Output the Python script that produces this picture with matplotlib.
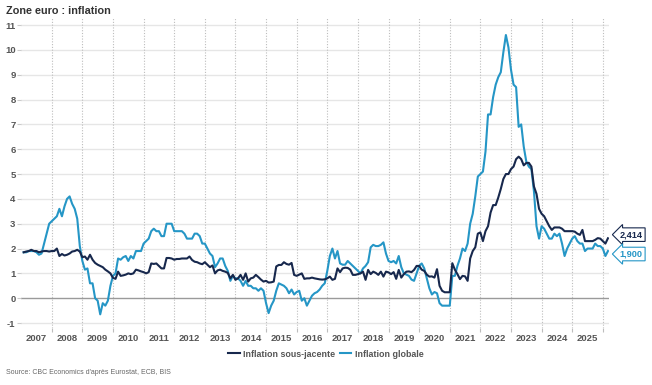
import matplotlib
matplotlib.use('Agg')
import matplotlib.pyplot as plt
import numpy as np

plt.rcParams['font.family'] = ['Liberation Sans', 'DejaVu Sans']

# monthly values, Jan 2007 -> Feb 2026
START_YEAR = 2007

globale = [
    1.85, 1.85, 1.9, 1.9, 1.9, 1.85, 1.75, 1.8, 2.2, 2.6, 3.0, 3.1,      # 2007
    3.2, 3.3, 3.6, 3.3, 3.7, 4.0, 4.1, 3.8, 3.6, 3.2, 2.1, 1.5,          # 2008
    1.15, 1.2, 0.6, 0.6, 0.0, -0.1, -0.65, -0.2, -0.3, -0.1, 0.5, 0.9,   # 2009
    1.0, 1.6, 1.55, 1.65, 1.7, 1.5, 1.7, 1.6, 1.9, 1.9, 1.9, 2.2,        # 2010
    2.3, 2.4, 2.7, 2.8, 2.7, 2.7, 2.5, 2.5, 3.0, 3.0, 3.0, 2.7,          # 2011
    2.7, 2.7, 2.7, 2.6, 2.4, 2.4, 2.4, 2.6, 2.6, 2.5, 2.2, 2.2,          # 2012
    2.0, 1.8, 1.7, 1.25, 1.4, 1.6, 1.6, 1.3, 1.1, 0.7, 0.9, 0.8,         # 2013
    0.8, 0.7, 0.5, 0.7, 0.5, 0.5, 0.4, 0.4, 0.3, 0.4, 0.3, -0.2,         # 2014
    -0.6, -0.3, -0.1, 0.3, 0.6, 0.55, 0.5, 0.4, 0.2, 0.35, 0.15, 0.25,   # 2015
    0.3, -0.1, 0.0, -0.3, -0.1, 0.1, 0.2, 0.25, 0.35, 0.5, 0.6, 1.1,     # 2016
    1.7, 2.0, 1.6, 1.9, 1.4, 1.35, 1.35, 1.5, 1.4, 1.3, 1.2, 1.1,        # 2017
    1.0, 1.2, 1.3, 1.45, 2.05, 2.15, 2.1, 2.1, 2.15, 2.25, 1.8, 1.5,     # 2018
    1.45, 1.5, 1.4, 1.7, 1.25, 1.0, 0.95, 0.9, 0.75, 0.7, 1.0, 1.3,      # 2019
    1.4, 1.2, 0.8, 0.4, 0.15, 0.25, 0.2, -0.2, -0.3, -0.3, -0.3, -0.3,   # 2020
    0.9, 0.9, 1.3, 1.6, 2.0, 1.9, 2.2, 3.0, 3.4, 4.1, 4.9, 5.0,          # 2021
    5.1, 5.9, 7.4, 7.4, 8.1, 8.6, 8.9, 9.1, 9.9, 10.6, 10.1, 9.2,        # 2022
    8.6, 8.5, 6.9, 7.0, 6.1, 5.5, 5.3, 5.2, 4.3, 2.9, 2.4, 2.9,          # 2023
    2.8, 2.6, 2.4, 2.4, 2.6, 2.5, 2.6, 2.2, 1.7, 2.0, 2.2, 2.4,          # 2024
    2.5, 2.3, 2.2, 2.2, 1.9, 2.0, 2.0, 2.0, 2.2, 2.1, 2.1, 2.0,          # 2025
    1.7, 1.9,                                                            # 2026
]

sous_jacente = [
    1.85, 1.88, 1.9, 1.95, 1.9, 1.9, 1.85, 1.88, 1.9, 1.9, 1.88, 1.9,            # 2007
    1.9, 2.0, 1.7, 1.78, 1.72, 1.75, 1.8, 1.88, 1.9, 1.95, 1.88, 1.65,           # 2008
    1.68, 1.55, 1.75, 1.55, 1.42, 1.35, 1.3, 1.25, 1.15, 1.08, 1.0, 0.82,        # 2009
    0.78, 1.07, 0.9, 0.92, 0.95, 1.0, 0.97, 1.0, 1.15, 1.12, 1.08, 1.05,         # 2010
    1.0, 1.05, 1.4, 1.38, 1.4, 1.3, 1.2, 1.2, 1.62, 1.62, 1.6, 1.55,             # 2011
    1.58, 1.58, 1.6, 1.6, 1.6, 1.68, 1.54, 1.47, 1.45, 1.4, 1.37, 1.45,          # 2012
    1.35, 1.25, 1.32, 1.0, 1.12, 1.15, 1.1, 1.07, 1.02, 0.8, 0.94, 0.74,         # 2013
    0.8, 0.94, 0.74, 1.0, 0.67, 0.8, 0.83, 0.94, 0.85, 0.75, 0.67, 0.7,          # 2014
    0.63, 0.64, 0.67, 1.28, 1.34, 1.34, 1.45, 1.38, 1.35, 1.42, 0.94, 0.9,       # 2015
    0.95, 1.0, 0.78, 0.8, 0.8, 0.83, 0.8, 0.78, 0.76, 0.75, 0.76, 0.8,           # 2016
    0.87, 0.74, 0.78, 1.2, 1.05, 1.2, 1.23, 1.22, 1.15, 0.94, 0.94, 0.97,        # 2017
    1.0, 1.07, 0.74, 1.14, 0.97, 1.07, 1.02, 0.94, 1.07, 0.87, 1.07, 1.04,       # 2018
    0.97, 1.05, 0.78, 1.14, 0.83, 0.97, 1.07, 1.08, 1.05, 1.14, 1.3, 1.3,        # 2019
    1.15, 1.1, 0.95, 0.87, 0.88, 0.83, 1.17, 0.5, 0.3, 0.24, 0.24, 0.24,         # 2020
    1.41, 1.15, 0.97, 0.77, 0.9, 0.88, 0.7, 1.6, 1.9, 2.05, 2.6, 2.65,           # 2021
    2.3, 2.7, 2.9, 3.45, 3.75, 3.75, 4.05, 4.4, 4.8, 5.0, 5.0, 5.2,              # 2022
    5.3, 5.6, 5.7, 5.6, 5.35, 5.45, 5.45, 5.3, 4.5, 4.2, 3.6, 3.4,               # 2023
    3.3, 3.1, 2.9, 2.75, 2.85, 2.85, 2.85, 2.8, 2.7, 2.7, 2.7, 2.7,              # 2024
    2.68, 2.6, 2.55, 2.75, 2.3, 2.3, 2.3, 2.3, 2.35, 2.42, 2.4, 2.3,             # 2025
    2.2, 2.414,                                                                  # 2026
]

last_labels = ['2,414', '1,900']
label_y = [2.56, 1.78]

years = list(range(2007, 2026))
y_ticks = list(range(-1, 12))

NAVY = '#17284d'
BLUE = '#2596c6'
GREY_TXT = '#555555'

x = START_YEAR + (np.arange(len(globale)) + 1) / 12.0

fig = plt.figure(figsize=(6.52, 3.85), dpi=100)
ax = fig.add_axes([0.0324, 0.148, 0.9016, 0.805])

ax.set_xlim(2007, 2026.2)
ax.set_ylim(-1.2, 11.28)

for v in y_ticks:
    if v != 0:
        ax.axhline(v, color='#e6e6e6', lw=1.0, zorder=0)
ax.axhline(0, color='#9a9a9a', lw=1.0, zorder=1)

ax.set_xticks(range(2008, 2027))
ax.set_xticklabels([])
ax.set_xticks([y + 0.5 for y in years], minor=True)
ax.set_xticklabels([str(y) for y in years], minor=True)
ax.grid(axis='x', which='major', color='#bdbdbd', lw=0.8, ls=(0, (1, 1.5)), zorder=0)
ax.tick_params(axis='x', which='major', length=3, color='#bdbdbd', width=0.8)
ax.tick_params(axis='x', which='minor', length=0, pad=4, labelsize=6.8,
               labelcolor=GREY_TXT)
for t in ax.get_xticklabels(minor=True):
    t.set_fontweight('bold')

ax.set_yticks(y_ticks)
ax.set_yticklabels([str(v) for v in y_ticks], fontweight='bold')
ax.tick_params(axis='y', length=3, color='#cccccc', width=0.8, pad=1,
               labelsize=6.8, labelcolor=GREY_TXT)

for s in ax.spines.values():
    s.set_visible(False)

ax.plot(x, sous_jacente, color=NAVY, lw=1.5, label='Inflation sous-jacente', zorder=4)
ax.plot(x, globale, color=BLUE, lw=1.5, label='Inflation globale', zorder=3)

for txt, val, ty, col in zip(last_labels, [sous_jacente[-1], globale[-1]], label_y, [NAVY, BLUE]):
    ax.annotate(txt, xy=(x[-1], val), xytext=(2026.93, ty), textcoords='data',
                ha='center', va='center', fontsize=6.6, fontweight='bold', color=col,
                annotation_clip=False,
                bbox=dict(boxstyle='larrow,pad=0.25', fc='white', ec=col, lw=0.8))

fig.legend(loc='center', bbox_to_anchor=(0.5, 0.0805), ncol=2, frameon=False,
           handlelength=1.3, handletextpad=0.4, columnspacing=0.5,
           prop={'size': 6.4, 'weight': 'bold'}, labelcolor=GREY_TXT)

fig.text(6 / 652, 1 - 11.5 / 385, 'Zone euro : inflation', fontsize=7.8,
         fontweight='bold', color='#333333', va='center', ha='left')
fig.text(6 / 652, 1 - 372 / 385, "Source: CBC Economics d'après Eurostat, ECB, BIS",
         fontsize=5, color='#666666', va='center', ha='left')

fig.savefig('out.png', dpi=100)
